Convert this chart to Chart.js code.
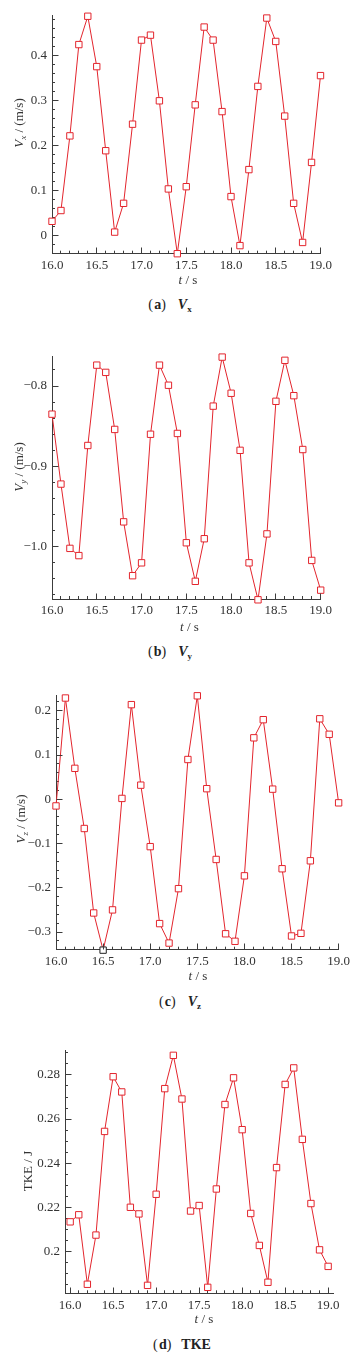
<!DOCTYPE html>
<html><head><meta charset="utf-8">
<script src="https://cdn.jsdelivr.net/npm/chart.js@4.4.0/dist/chart.umd.min.js"></script>
<style>
html,body{margin:0;padding:0;background:#fff;}
body{width:357px;height:1371px;position:relative;overflow:hidden;font-family:"Liberation Serif",serif;}
canvas{position:absolute;left:0;}
.cap{position:absolute;transform:translateX(-50%);white-space:nowrap;font:14px "Liberation Serif",serif;color:#222;line-height:16px;}
.cap b{font-weight:bold;}
.cap .v{margin-left:12px;font-style:italic;font-weight:bold;}
.cap sub{font-size:9px;vertical-align:-3px;font-weight:bold;font-style:normal;line-height:0;}
</style></head><body>
<canvas id="ca" width="357" height="292" style="top:0px"></canvas>
<canvas id="cb" width="357" height="300" style="top:340px"></canvas>
<canvas id="cc" width="357" height="310" style="top:680px"></canvas>
<canvas id="cd" width="357" height="300" style="top:1030px"></canvas>
<div class="cap" style="left:170px;top:297px">(&#8202;<b>a</b>)<span class="v">V</span><sub>x</sub></div>
<div class="cap" style="left:170px;top:644px">(&#8202;<b>b</b>)<span class="v">V</span><sub>y</sub></div>
<div class="cap" style="left:180px;top:994px">(&#8202;<b>c</b>)<span class="v">V</span><sub>z</sub></div>
<div class="cap" style="left:182px;top:1337px">(&#8202;<b>d</b>)<b style="margin-left:10px">TKE</b></div>
<script>
// ---------- data ----------
const times = [16.0,16.1,16.2,16.3,16.4,16.5,16.6,16.7,16.8,16.9,17.0,17.1,17.2,17.3,17.4,17.5,17.6,17.7,17.8,17.9,18.0,18.1,18.2,18.3,18.4,18.5,18.6,18.7,18.8,18.9,19.0];
const vx = [0.031,0.055,0.221,0.424,0.487,0.375,0.188,0.007,0.071,0.247,0.434,0.445,0.299,0.103,-0.041,0.108,0.290,0.463,0.434,0.275,0.086,-0.023,0.146,0.331,0.483,0.431,0.265,0.071,-0.016,0.162,0.355];
const vy = [-0.835,-0.922,-1.002,-1.011,-0.874,-0.774,-0.783,-0.854,-0.969,-1.036,-1.020,-0.860,-0.774,-0.799,-0.859,-0.995,-1.043,-0.990,-0.825,-0.764,-0.809,-0.880,-1.020,-1.066,-0.984,-0.819,-0.768,-0.812,-0.879,-1.017,-1.054];
const vz = [-0.015,0.229,0.070,-0.066,-0.257,-0.341,-0.250,0.002,0.214,0.032,-0.107,-0.281,-0.325,-0.202,0.090,0.234,0.024,-0.136,-0.304,-0.321,-0.173,0.139,0.180,0.023,-0.157,-0.309,-0.303,-0.139,0.182,0.147,-0.008];
const tke = [0.2134,0.2166,0.1851,0.2074,0.2544,0.2792,0.2723,0.2200,0.2170,0.1846,0.2259,0.2738,0.2889,0.2691,0.2183,0.2208,0.1837,0.2283,0.2666,0.2787,0.2552,0.2172,0.2027,0.1860,0.2380,0.2757,0.2832,0.2508,0.2217,0.2007,0.1932];

const xMajors = [16.0,16.5,17.0,17.5,18.0,18.5,19.0];
const xLabels = ['16.0','16.5','17.0','17.5','18.0','18.5','19.0'];
const vxMajors = [0,0.1,0.2,0.3,0.4];
const vxLabels = ['0','0.1','0.2','0.3','0.4'];
const vyMajors = [-1.0,-0.9,-0.8];
const vyLabels = ['\u22121.0','\u22120.9','\u22120.8'];
const vzMajors = [-0.3,-0.2,-0.1,0,0.1,0.2];
const vzLabels = ['\u22120.3','\u22120.2','\u22120.1','0','0.1','0.2'];
const tkeMajors = [0.20,0.22,0.24,0.26,0.28];
const tkeLabels = ['0.2','0.22','0.24','0.26','0.28'];

// ---------- style ----------
const RED = '#e3252d';
const AXIS = '#3c3c3c';
const TEXT = '#333333';
const FONT = '"Liberation Serif", "Times New Roman", serif';

function makeTicks(min, max, step){
  const out = [];
  const n0 = Math.ceil(min/step - 1e-6), n1 = Math.floor(max/step + 1e-6);
  for (let k = n0; k <= n1; k++) out.push(+(k*step).toFixed(6));
  return out;
}
function labelFor(v, majors, labels){
  const i = majors.findIndex(m => Math.abs(m - v) < 1e-6);
  return i < 0 ? '' : labels[i];
}
function ap(p){ return Math.round(p - 0.5) + 0.5; }
function drawRich(ctx, segs, cx, cy, rot){
  ctx.save(); ctx.translate(cx, cy); if (rot) ctx.rotate(rot);
  ctx.textBaseline = 'alphabetic'; ctx.textAlign = 'left'; ctx.fillStyle = TEXT;
  let w = 0; segs.forEach(s => { ctx.font = s.font; w += ctx.measureText(s.t).width; });
  let x = -w/2;
  segs.forEach(s => { ctx.font = s.font; ctx.fillText(s.t, x, 4.5 + (s.dy||0)); x += ctx.measureText(s.t).width; });
  ctx.restore();
}
const IT = `italic 13px ${FONT}`, RG = `13px ${FONT}`, SUB = `italic 9px ${FONT}`;
const xTitle = [{t:'t', font:IT},{t:' / s', font:RG}];

function makePanel(id, cfg){
  const canvas = document.getElementById(id);
  const top = cfg.canvasTop;
  const xh = canvas.height - (cfg.bottom - top);
  const decor = {
    id: 'decor_' + id,
    afterDraw(chart){
      const ctx = chart.ctx, a = chart.chartArea, xs = chart.scales.x, ys = chart.scales.y;
      ctx.save();
      ctx.strokeStyle = AXIS; ctx.lineWidth = 1;
      ctx.beginPath();
      xMajors.forEach(v => { const p = ap(xs.getPixelForValue(v)); ctx.moveTo(p, ap(a.bottom)); ctx.lineTo(p, ap(a.bottom) - 6); });
      cfg.yMajors.forEach(v => { const p = ap(ys.getPixelForValue(v)); ctx.moveTo(ap(a.left), p); ctx.lineTo(ap(a.left) + 6, p); });
      ctx.stroke();
      ctx.restore();
      drawRich(ctx, cfg.yTitle, cfg.yTitlePos[0], cfg.yTitlePos[1] - top, -Math.PI/2);
      drawRich(ctx, xTitle, cfg.xTitlePos[0], cfg.xTitlePos[1] - top, 0);
    }
  };
  return new Chart(canvas, {
    type: 'line',
    data: { datasets: [{
      data: times.map((t, i) => ({x: t, y: cfg.values[i]})),
      borderColor: RED, borderWidth: 1, tension: 0, clip: false,
      pointStyle: 'rect', pointRadius: 4.5, pointBorderWidth: 1,
      pointBackgroundColor: '#ffffff',
      pointBorderColor: (c) => (cfg.darkIndex === c.dataIndex ? '#222' : RED)
    }]},
    options: {
      responsive: false, animation: false, devicePixelRatio: 1, events: [],
      layout: { padding: { top: cfg.top - top, right: 357 - cfg.right, left: 0, bottom: 0 } },
      plugins: { legend: {display: false}, tooltip: {enabled: false} },
      scales: {
        x: {
          type: 'linear', min: cfg.xmin, max: cfg.xmax,
          afterFit: s => { s.height = xh; },
          afterBuildTicks: s => { s.ticks = makeTicks(cfg.xmin, cfg.xmax, 0.1).map(v => ({value: v})); },
          ticks: { autoSkip: false, maxRotation: 0, minRotation: 0, padding: 7, color: TEXT,
                   font: {family: FONT, size: 13}, callback: v => labelFor(v, xMajors, xLabels) },
          grid: { drawOnChartArea: false, drawTicks: true, tickLength: -3, tickColor: AXIS, lineWidth: 1 },
          border: { display: true, color: AXIS, width: 1 }
        },
        y: {
          type: 'linear', min: cfg.ymin, max: cfg.ymax,
          afterFit: s => { s.width = cfg.left; },
          afterBuildTicks: s => { s.ticks = makeTicks(cfg.ymin, cfg.ymax, cfg.yStep).map(v => ({value: v})); },
          ticks: { autoSkip: false, padding: 8, color: TEXT,
                   font: {family: FONT, size: 13}, callback: v => labelFor(v, cfg.yMajors, cfg.yLabels) },
          grid: { drawOnChartArea: false, drawTicks: true, tickLength: -3, tickColor: AXIS, lineWidth: 1 },
          border: { display: true, color: AXIS, width: 1 }
        }
      }
    },
    plugins: [decor]
  });
}

makePanel('ca', { canvasTop: 0, values: vx, left: 52, right: 320.5, top: 11, bottom: 253.7,
  xmin: 16.0, xmax: 19.0, ymin: -0.041, ymax: 0.488, yStep: 0.02, yMajors: vxMajors, yLabels: vxLabels,
  yTitle: [{t:'V', font:IT},{t:'x', font:SUB, dy:3},{t:' / (m/s)', font:RG}], yTitlePos: [18.5, 123], xTitlePos: [188, 279] });
makePanel('cb', { canvasTop: 340, values: vy, left: 52, right: 320.7, top: 356.7, bottom: 599,
  xmin: 16.0, xmax: 19.0, ymin: -1.065, ymax: -0.7635, yStep: 0.02, yMajors: vyMajors, yLabels: vyLabels,
  yTitle: [{t:'V', font:IT},{t:'y', font:SUB, dy:3},{t:' / (m/s)', font:RG}], yTitlePos: [18.5, 467], xTitlePos: [189.5, 626.7] });
makePanel('cc', { canvasTop: 680, values: vz, left: 56, right: 339.3, top: 694, bottom: 949.7,
  xmin: 16.0, xmax: 19.0, ymin: -0.34, ymax: 0.234, yStep: 0.02, yMajors: vzMajors, yLabels: vzLabels, darkIndex: 5,
  yTitle: [{t:'V', font:IT},{t:'z', font:SUB, dy:3},{t:' / (m/s)', font:RG}], yTitlePos: [20, 819], xTitlePos: [198, 975] });
makePanel('cd', { canvasTop: 1030, values: tke, left: 65, right: 333.3, top: 1050.7, bottom: 1293.3,
  xmin: 15.94, xmax: 19.06, ymin: 0.181, ymax: 0.291, yStep: 0.005, yMajors: tkeMajors, yLabels: tkeLabels,
  yTitle: [{t:'TKE / J', font:RG}], yTitlePos: [27.5, 1171], xTitlePos: [204, 1318.3] });
</script>
</body></html>
